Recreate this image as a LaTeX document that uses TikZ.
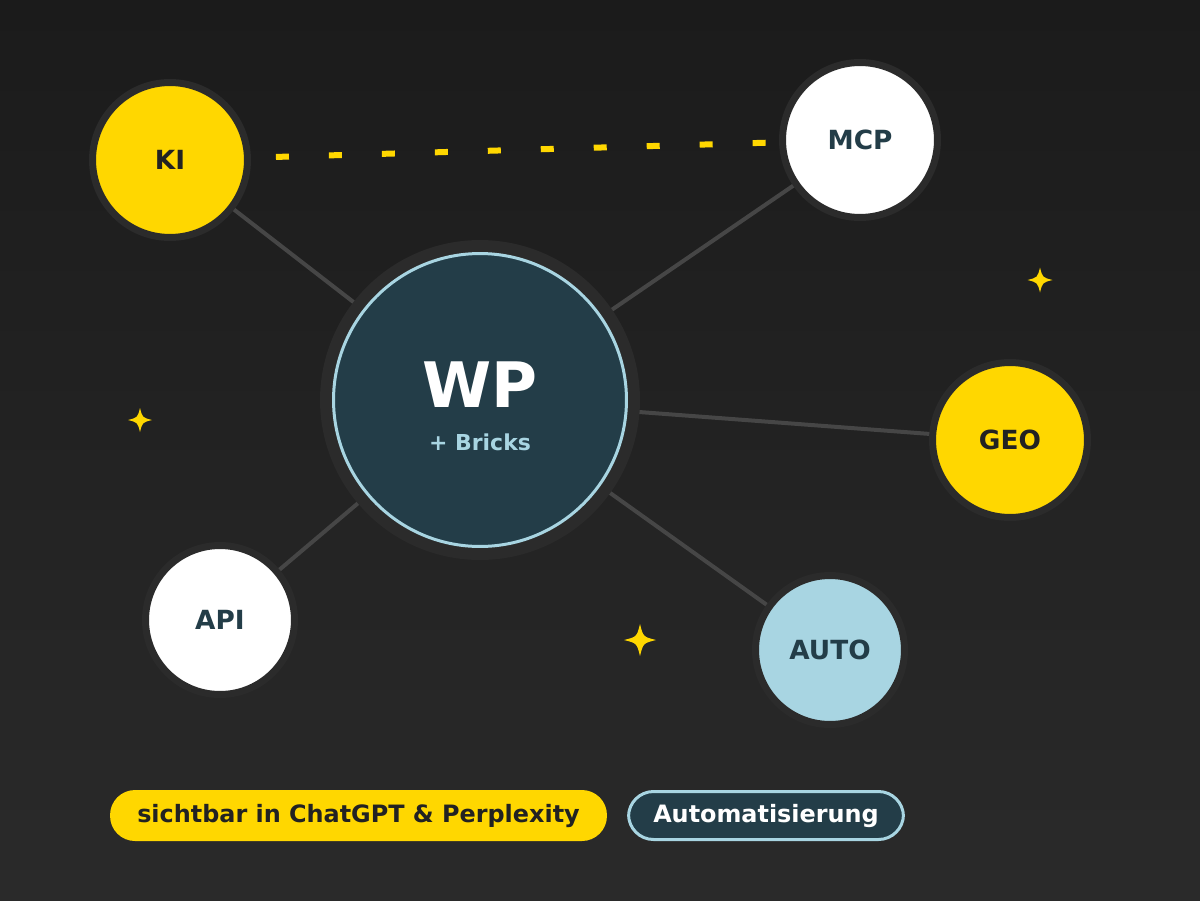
\documentclass[tikz,border=0pt]{standalone}
\usepackage{fontspec}
\setmainfont{DejaVu Sans}
\definecolor{bgtop}{HTML}{1B1B1B}
\definecolor{bgbot}{HTML}{2A2A2A}
\definecolor{ringc}{HTML}{2B2B2B}
\definecolor{ylw}{HTML}{FFD700}
\definecolor{deepteal}{HTML}{233D48}
\definecolor{lblue}{HTML}{A8D5E2}
\definecolor{edgegray}{HTML}{464646}
\definecolor{ink}{HTML}{222222}
\pgfdeclarelayer{bgl}
\pgfdeclarelayer{edges}
\pgfsetlayers{bgl,edges,main}
\newcommand\mysparkle[3]{%
  \fill[ylw] (#1,#2-#3) .. controls (#1+0.2*#3,#2-0.2*#3) .. (#1+#3,#2)
    .. controls (#1+0.2*#3,#2+0.2*#3) .. (#1,#2+#3)
    .. controls (#1-0.2*#3,#2+0.2*#3) .. (#1-#3,#2)
    .. controls (#1-0.2*#3,#2-0.2*#3) .. cycle;}
\begin{document}
\begin{tikzpicture}[x=0.02cm,y=-0.02cm,
  sat/.style={circle,inner sep=0pt,draw=ringc,line width=0.14cm,
    font=\bfseries\fontsize{15}{16}\selectfont},
  bigsat/.style={sat,minimum size=3.1cm},
  smallsat/.style={sat,minimum size=2.98cm},
  link/.style={draw=edgegray,line width=0.08cm},
  dashlink/.style={draw=ylw,line width=0.12cm,dash pattern=on 0.26cm off 0.8cm},
  pill/.style={rounded corners=0.5cm,minimum height=1.02cm,inner sep=0pt,
    font=\bfseries\fontsize{13.6}{16}\selectfont}]
\useasboundingbox (0,0) rectangle (1200,900);
\begin{pgfonlayer}{bgl}
\shade[top color=bgtop,bottom color=bgbot] (0,0) rectangle (1200,900);
\end{pgfonlayer}

% hub
\node[circle,inner sep=0pt,minimum size=5.86cm,fill=deepteal,draw=lblue,line width=0.06cm,
  preaction={draw=ringc,line width=0.54cm}] (wp) at (480,400) {};
\node[anchor=base,text=white,font=\bfseries\fontsize{35.7}{40}\selectfont] (wptxt) at (480,407) {WP};
\node[anchor=base,text=lblue,font=\bfseries\fontsize{12.5}{14}\selectfont] (bricks) at (480,450.5) {+ Bricks};

% satellites
\node[bigsat,fill=ylw,text=ink] (ki) at (170,160) {KI};
\node[bigsat,fill=white,text=deepteal] (mcp) at (860,140) {MCP};
\node[bigsat,fill=ylw,text=ink] (geo) at (1010,440) {GEO};
\node[smallsat,fill=white,text=deepteal] (api) at (220,620) {API};
\node[smallsat,fill=lblue,text=deepteal] (auto) at (830,650) {AUTO};

% connectors
\begin{pgfonlayer}{edges}
\draw[link] (wp.center) -- (ki.center);
\draw[link] (wp.center) -- (mcp.center);
\draw[link] (wp.center) -- (geo.center);
\draw[link] (wp.center) -- (api.center);
\draw[link] (wp.center) -- (auto.center);
\draw[dashlink] (ki.center) -- (mcp.center);
\end{pgfonlayer}

% sparkles
\mysparkle{1040}{280}{12.5}
\mysparkle{140}{420}{12}
\mysparkle{640}{640}{16}

% legend pills
\node[pill,fill=ylw,text=ink,minimum width=9.94cm] (legki) at (358.5,815.5) {sichtbar in ChatGPT \& Perplexity};
\node[pill,fill=deepteal,draw=lblue,line width=0.06cm,text=white,minimum width=5.5cm,minimum height=0.96cm] (legauto) at (766,815.5) {Automatisierung};
\end{tikzpicture}
\end{document}
